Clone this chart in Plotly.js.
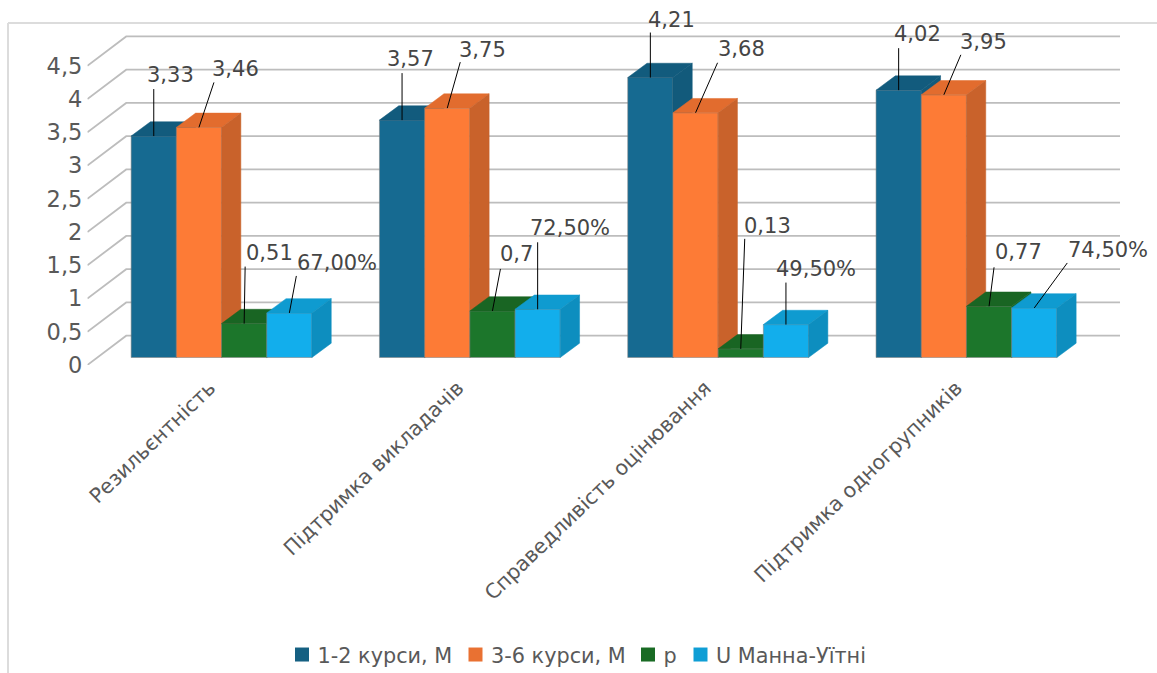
<!DOCTYPE html>
<html>
<head>
<meta charset="utf-8">
<script src="https://cdn.plot.ly/plotly-3.0.1.min.js"></script>
<style>html,body{margin:0;padding:0;background:#fff}#chart{width:1157px;height:673px}</style>
</head>
<body>
<div id="chart"></div>
<script>
// Survey scales
const categories = ['Резильєнтність', 'Підтримка викладачів', 'Справедливість оцінювання', 'Підтримка одногрупників'];
const seriesNames = ['1-2 курси, М', '3-6 курси, М', 'p', 'U Манна-Уїтні'];
const course12 = [3.33, 3.57, 4.21, 4.02];
const course36 = [3.46, 3.75, 3.68, 3.95];
const pValues = [0.51, 0.7, 0.13, 0.77];
const mannWhitney = [0.67, 0.725, 0.495, 0.745];
const yTicks = [0, 0.5, 1, 1.5, 2, 2.5, 3, 3.5, 4, 4.5];

const seriesValues = [course12, course36, pValues, mannWhitney];
const comma = s => s.replace('.', ',');
const labelText = [
  v => comma(v.toFixed(2)),
  v => comma(v.toFixed(2)),
  v => comma(String(v)),
  v => comma((v * 100).toFixed(2)) + '%'
];

// Face colours per series
const legendColors = ['#156082', '#E97132', '#196B24', '#0F9ED5'];
const frontColors = ['#166a91', '#fd7b36', '#1c762b', '#12aeec'];
const topColors = ['#125b7d', '#e26c2e', '#196523', '#0f9bd0'];
const sideColors = ['#125a7b', '#c9622b', '#196523', '#0d8ebf'];

// Leader ends and label centres, in pixels relative to the top-centre of each bar: [series][category]
const leaderEnds = [
  [[0, 47], [0, 47], [0, 45], [0, 42]],
  [[15, 45], [13, 46], [22, 50], [17, 40]],
  [[1, 57], [8, 42], [4, 110], [5, 39]],
  [[7, 37], [0, 67], [0, 42], [33, 45]]
];
const labelCentres = [
  [[17, 61], [8, 61], [21, 58], [19, 56]],
  [[37, 58], [35, 58], [46, 64], [40, 53]],
  [[25, 71], [24, 57], [27, 123], [29, 54]],
  [[48, 50], [32, 81], [30, 56], [74, 58]]
];

// Legend swatch centres across the page, and sideways nudges for the slanted category labels
const legendSwatchCentres = [302, 475.5, 648, 700.5];
const categoryLabelNudge = [-2, -2, -3, 0];

// Layout geometry in pixels
const W = 1157, H = 673;
const plotLeft = 87.4, plotRight = 1120, floorFront = 365, plotTop = 20;
const pitch = 248.3, unit = 66.5;
const barW = 45.2 / pitch;
const depthX = 19.3 / pitch, depthY = 14.3 / unit;
const wallX = 38.8 / pitch, wallY = 29.3 / unit;
const insetX = 10 / pitch, insetY = 7.5 / unit;

const xRange = [-0.5, -0.5 + (plotRight - plotLeft) / pitch];
const yRange = [0, (floorFront - plotTop) / unit];
const positions = categories.map((_, i) => i);

const traces = [];

// Back wall lines and the slanted side wall lines
const gridX = [], gridY = [];
yTicks.forEach(v => {
  gridX.push(xRange[0], xRange[0] + wallX, xRange[1], null);
  gridY.push(v, v + wallY, v + wallY, null);
});
traces.push({type: 'scatter', mode: 'lines', x: gridX, y: gridY, xaxis: 'x', yaxis: 'y',
  line: {color: '#bdbdbd', width: 1.8}, hoverinfo: 'skip', showlegend: false});

const face = (xs, ys, color, ax) => ({
  type: 'scatter', mode: 'lines', x: xs, y: ys, fill: 'toself', fillcolor: color,
  line: {color: color, width: 0.5}, xaxis: 'x' + ax, yaxis: 'y' + ax,
  hoverinfo: 'skip', showlegend: false
});

// One overlaid subplot per series, so each series paints over the one before it
seriesValues.forEach((vals, k) => {
  const ax = k + 2;
  const offset = -2 * barW + k * barW;
  traces.push({type: 'bar', x: positions, y: vals, name: seriesNames[k], xaxis: 'x' + ax, yaxis: 'y' + ax,
    width: barW, offset: offset, marker: {color: frontColors[k], line: {color: 'rgba(130,130,130,0.55)', width: 1}},
    hoverinfo: 'y', showlegend: false});
  vals.forEach((v, i) => {
    const l = i + offset, r = l + barW;
    traces.push(face([l, r, r + depthX, l + depthX, l], [v, v, v + depthY, v + depthY, v], topColors[k], ax));
    traces.push(face([r, r + depthX, r + depthX, r, r], [0, depthY, v + depthY, v, 0], sideColors[k], ax));
  });
});

// Leader lines from each bar to its label
const leadX = [], leadY = [];
const annotations = [];
seriesValues.forEach((vals, k) => {
  vals.forEach((v, i) => {
    const cx = i - 2 * barW + k * barW + barW / 2;
    const [ex, ey] = leaderEnds[k][i];
    const [tx, ty] = labelCentres[k][i];
    leadX.push(cx, cx + ex / pitch, null);
    leadY.push(v, v + ey / unit, null);
    annotations.push({xref: 'x5', yref: 'y5', x: cx, y: v, xshift: tx, yshift: ty, showarrow: false,
      text: labelText[k](v), xanchor: 'center', yanchor: 'middle',
      font: {family: 'DejaVu Sans', size: 21, color: '#454545'}});
  });
});
traces.push({type: 'scatter', mode: 'lines', x: leadX, y: leadY, xaxis: 'x5', yaxis: 'y5',
  line: {color: '#000', width: 1}, hoverinfo: 'skip', showlegend: false});

// Legend entries use the square swatches in the base colours
seriesNames.forEach((name, k) => {
  traces.push({type: 'scatter', mode: 'markers', x: [null], y: [null], name: name, xaxis: 'x', yaxis: 'y',
    marker: {symbol: 'square', size: 14, color: legendColors[k]}, hoverinfo: 'skip', showlegend: true});
});

const legendLeft = 282;
const legendMiddle = 640;
const legendDrop = 15;

const layout = {
  width: W, height: H,
  margin: {l: 0, r: 0, t: 0, b: 0},
  paper_bgcolor: '#fff', plot_bgcolor: 'rgba(0,0,0,0)',
  separators: ', ',
  font: {family: 'DejaVu Sans', color: '#595959'},
  showlegend: true,
  legend: {orientation: 'h', x: legendLeft / W, xanchor: 'left', y: (H - legendMiddle) / H, yanchor: 'middle',
    font: {family: 'DejaVu Sans', size: 20.8, color: '#595959'}, itemwidth: 30, bgcolor: 'rgba(0,0,0,0)'},
  xaxis: {domain: [plotLeft / W, plotRight / W], range: xRange, tickmode: 'array',
    tickvals: positions.map((p, i) => p + categoryLabelNudge[i] / pitch), ticktext: categories,
    tickangle: -44, ticklabelstandoff: 6,
    tickfont: {family: 'DejaVu Sans', size: 20.5, color: '#595959'},
    showgrid: false, zeroline: false, showline: false, ticks: '', automargin: false, fixedrange: true},
  yaxis: {domain: [(H - floorFront) / H, (H - plotTop) / H], range: yRange, tickmode: 'array',
    tickvals: yTicks, ticktext: yTicks.map(v => comma(String(v))), ticklabelstandoff: 4,
    tickfont: {family: 'DejaVu Sans', size: 22.5, color: '#595959'},
    showgrid: false, zeroline: false, showline: false, ticks: '', automargin: false, fixedrange: true},
  annotations: annotations,
  shapes: [
    {type: 'line', xref: 'paper', yref: 'paper', x0: 8 / W, x1: 8 / W, y0: 0, y1: (H - 23) / H, line: {color: '#dcdcdc', width: 2}},
    {type: 'line', xref: 'paper', yref: 'paper', x0: 8 / W, x1: 1, y0: (H - 23) / H, y1: (H - 23) / H, line: {color: '#dcdcdc', width: 2}}
  ]
};

// Overlaid axes share the plot area, shifted so bars stand inside the floor
[2, 3, 4, 5].forEach(n => {
  layout['xaxis' + n] = {overlaying: 'x', visible: false, fixedrange: true,
    range: [xRange[0] - insetX, xRange[1] - insetX]};
  layout['yaxis' + n] = {overlaying: 'y', visible: false, fixedrange: true,
    range: [yRange[0] - insetY, yRange[1] - insetY]};
});

Plotly.newPlot('chart', traces, layout, {displayModeBar: false, responsive: false}).then(gd => {
  // Tighten the legend: swatch close to its text, entries placed at fixed centres
  const legendBox = gd.querySelector('.legend');
  legendBox.querySelectorAll('.traces').forEach((item, i) => {
    const y = parseFloat(item.getAttribute('transform').match(/,\s*([-\d.]+)/)[1]);
    item.setAttribute('transform', `translate(${legendSwatchCentres[i] - 20 - legendLeft},${y + legendDrop})`);
    item.querySelector('.legendtext').setAttribute('x', 35.5);
  });
  // The box keeps its computed size, so let the shifted entries show past its clip
  legendBox.querySelectorAll('.scrollbox').forEach(b => b.removeAttribute('clip-path'));
  legendBox.removeAttribute('clip-path');
});
</script>
</body>
</html>
